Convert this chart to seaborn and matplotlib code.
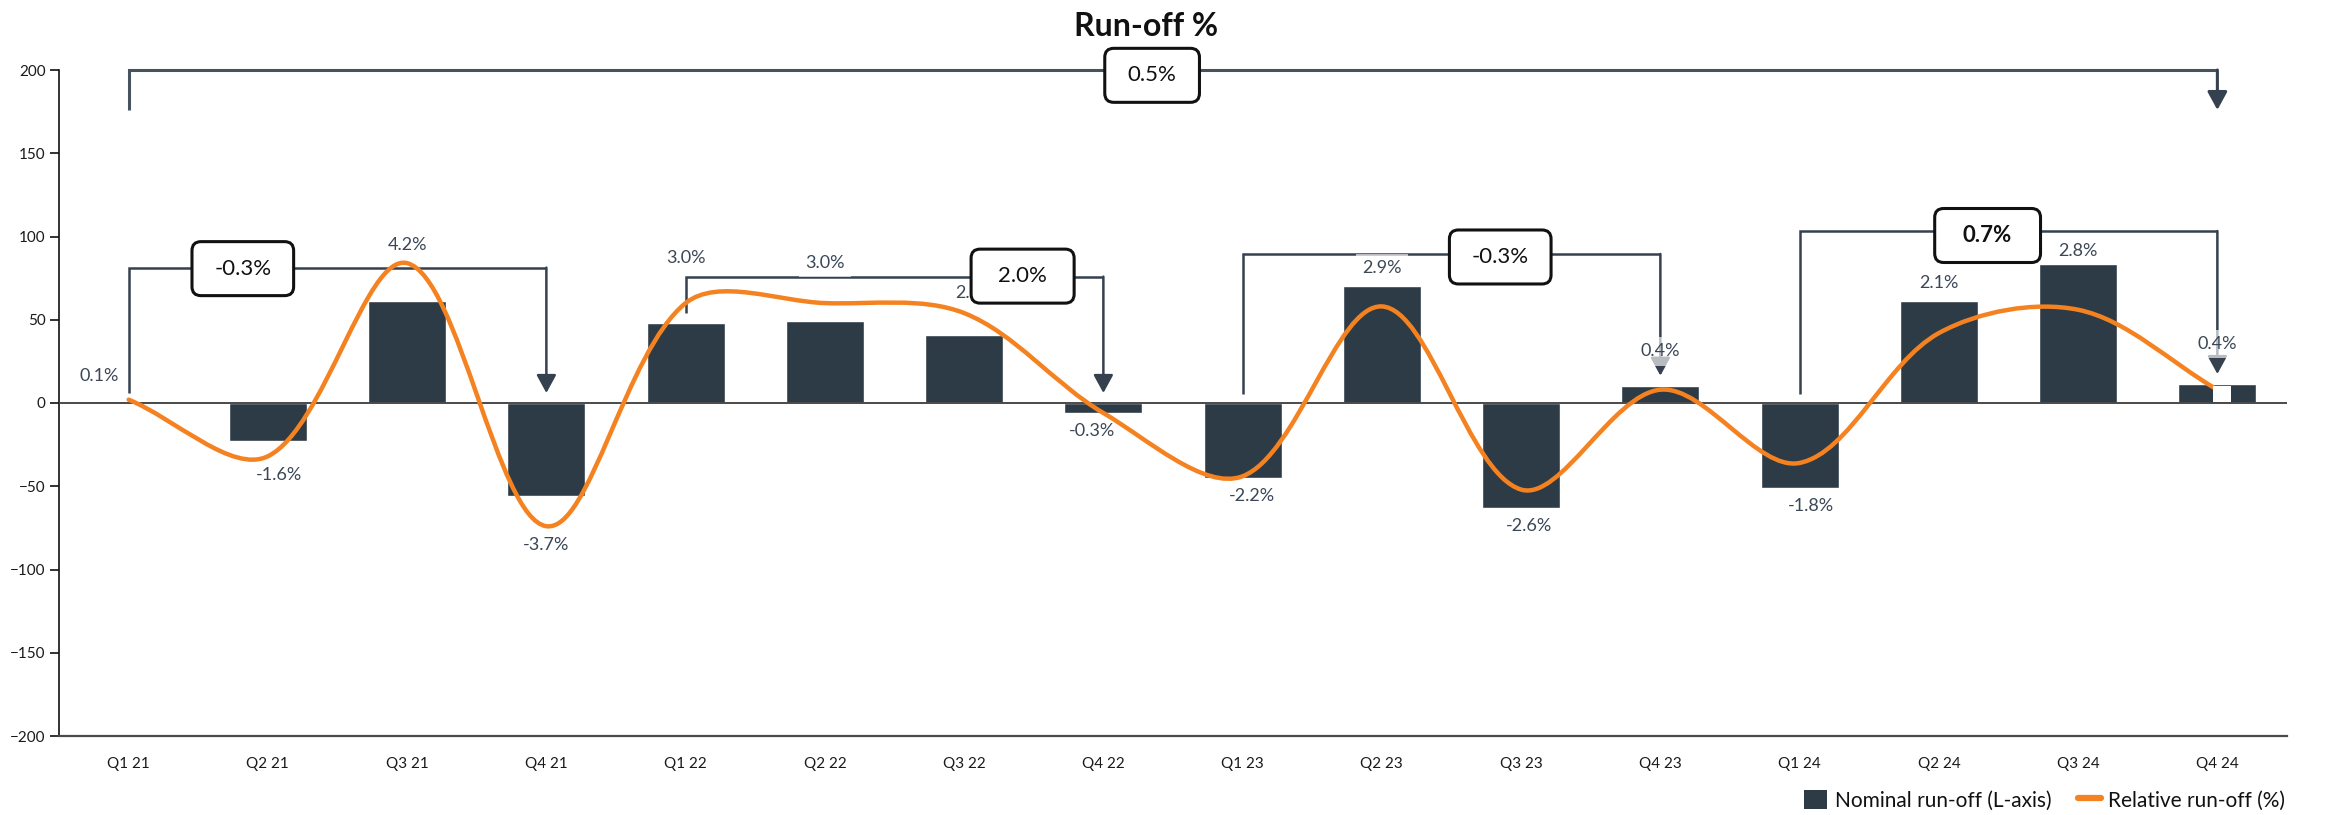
import matplotlib
matplotlib.use("Agg")
import numpy as np
import pandas as pd
import matplotlib.pyplot as plt
from matplotlib import font_manager
from matplotlib.path import Path
from matplotlib.patches import PathPatch, FancyBboxPatch, Rectangle, Patch
from matplotlib.lines import Line2D
import seaborn as sns

# ---- data -------------------------------------------------------------
quarters = ["Q1 21", "Q2 21", "Q3 21", "Q4 21",
            "Q1 22", "Q2 22", "Q3 22", "Q4 22",
            "Q1 23", "Q2 23", "Q3 23", "Q4 23",
            "Q1 24", "Q2 24", "Q3 24", "Q4 24"]
nominal_runoff = [1, -23, 61, -56, 48, 49, 41, -6,
                  -45, 70, -63, 10, -51, 61, 83.5, 11.5]
relative_runoff_pct = [0.1, -1.6, 4.2, -3.7, 3.0, 3.0, 2.7, -0.3,
                       -2.2, 2.9, -2.6, 0.4, -1.8, 2.1, 2.8, 0.4]
# change in relative run-off between two quarters (start, end index)
bracket_spans = [(0, 15), (0, 3), (4, 7), (8, 11), (12, 15)]
bracket_changes = [0.5, -0.3, 2.0, -0.3, 0.7]

y_ticks = [-200, -150, -100, -50, 0, 50, 100, 150, 200]

# ---- style ------------------------------------------------------------
BAR = "#2D3B46"
ORANGE = "#F58220"
LINE = "#35414E"
TEXT = "#3B4756"

sns.set_theme(style="white")
available = {f.name for f in font_manager.fontManager.ttflist}
base_font = next((f for f in ["Lato", "Open Sans", "DejaVu Sans"] if f in available), "DejaVu Sans")
plt.rcParams["font.family"] = [base_font, "DejaVu Sans"]

fig = plt.figure(figsize=(23.31, 8.15), dpi=100)
ax = fig.add_axes([59 / 2331, 79 / 815, (2287 - 59) / 2331, 666 / 815])

df = pd.DataFrame({"quarter": quarters, "nominal": nominal_runoff})
sns.barplot(data=df, x="quarter", y="nominal", color=BAR, saturation=1,
            width=0.56, ax=ax, zorder=2)

ax.set_xlim(-0.5, len(quarters) - 0.5)
ax.set_ylim(-200, 200)
ax.set_yticks(y_ticks)
ax.set_xlabel("")
ax.set_ylabel("")

# pixel scale of the data axes (used for the smoothed line and the boxes)
fig.canvas.draw()
p0 = ax.transData.transform((0, 0))
p1 = ax.transData.transform((1, 1))
px_x, px_y = p1[0] - p0[0], p1[1] - p0[1]

# relative run-off shares the left axis: right scale is -10 % .. 10 %
pct_scale = 200 / 10
line_y = [v * pct_scale for v in relative_runoff_pct]
xs = list(range(len(quarters)))


def smooth_path(px, py, tension=1 / 3):
    """Bezier curve through the points, tangents weighted by screen distance."""
    n = len(px)

    def dist(i, j):
        return np.hypot((px[j] - px[i]) * px_x, (py[j] - py[i]) * px_y)

    out_ctrl, in_ctrl = [], []
    for i in range(n):
        a, b = max(i - 1, 0), min(i + 1, n - 1)
        d_prev, d_next = dist(a, i), dist(i, b)
        tot = d_prev + d_next
        tx, ty = px[b] - px[a], py[b] - py[a]
        f_in = tension * d_prev / tot if tot else 0
        f_out = tension * d_next / tot if tot else 0
        in_ctrl.append((px[i] - f_in * tx, py[i] - f_in * ty))
        out_ctrl.append((px[i] + f_out * tx, py[i] + f_out * ty))
    verts = [(px[0], py[0])]
    codes = [Path.MOVETO]
    for i in range(n - 1):
        verts += [out_ctrl[i], in_ctrl[i + 1], (px[i + 1], py[i + 1])]
        codes += [Path.CURVE4] * 3
    return Path(verts, codes)


ax.add_patch(PathPatch(smooth_path(xs, line_y), fill=False, edgecolor=ORANGE,
                       lw=3.2, capstyle="round", joinstyle="round", zorder=6))

# axes frame
for side in ["top", "right"]:
    ax.spines[side].set_visible(False)
ax.spines["left"].set_color("#111111")
ax.spines["left"].set_linewidth(1.2)
ax.spines["bottom"].set_color("#4A4A4A")
ax.spines["bottom"].set_linewidth(1.6)
ax.axhline(0, color="#4A4A4A", lw=1.4, zorder=3)
ax.tick_params(axis="y", left=True, length=6.5, width=1.2, color="#111111",
               labelsize=11, labelcolor="#1A1A1A", pad=3)
ax.tick_params(axis="x", length=0, labelsize=11, labelcolor="#1A1A1A", pad=15)

# data labels for the relative run-off
extra = {0: (-0.21, 3), 1: (0.08, 0), 4: (0, 16), 5: (0, 13), 6: (0.08, 1),
         7: (-0.08, 0), 8: (0.07, 0), 10: (0.06, 0), 11: (0, 10),
         12: (0.08, 0), 14: (0, -3), 15: (0, 13)}
for i, (b, l, v) in enumerate(zip(nominal_runoff, line_y, relative_runoff_pct)):
    dx, dy = extra.get(i, (0, 0))
    if v >= 0:
        y = max(b, l) + 11 + dy
    else:
        y = min(b, l) - 11 - dy
    ax.text(i + dx, y, f"{v:.1f}%", ha="center", va="center", fontsize=13,
            color=TEXT, zorder=5,
            bbox=dict(boxstyle="square,pad=0.35", fc="white", ec="none", alpha=0.65))

# white gap over the last bar below its arrow
ax.add_patch(Rectangle((14.97, 0.9), 0.13, 9.4, fc="white", ec="none", zorder=6.5))

# brackets with arrows
bracket_geom = [
    # top, left foot, arrow tip, box centre x, box centre y, box width
    (200, 176, 176, 7.35, 196.8, 0.68),
    (81.3, 6, 6, 0.82, 80.7, 0.73),
    (75.9, 53.9, 6, 6.42, 76.2, 0.74),
    (89.5, 5.4, 16.4, 9.85, 87.7, 0.73),
    (103.3, 5.4, 17.4, 13.35, 100.6, 0.76),
]
highlight = 4

aspect = px_x / px_y
box_h = 54 / px_y
radius = 9 / px_x

for k, ((a, b), chg, (top, foot, tip, bx, by, bw)) in enumerate(
        zip(bracket_spans, bracket_changes, bracket_geom)):
    lw = 2.2 if k == 0 else 1.8
    col = "#46525E" if k == 0 else LINE
    ax.plot([a, a, b], [foot, top, top], color=col, lw=lw, zorder=4,
            solid_joinstyle="miter", solid_capstyle="butt", clip_on=False)
    ax.annotate("", xy=(b, tip), xytext=(b, top),
                arrowprops=dict(arrowstyle="-|>,head_length=0.55,head_width=0.3",
                                mutation_scale=20, color=LINE, lw=lw,
                                shrinkA=0, shrinkB=0),
                zorder=4, annotation_clip=False)
    ax.add_patch(FancyBboxPatch((bx - bw / 2, by - box_h / 2), bw, box_h,
                                boxstyle=f"round,pad=0,rounding_size={radius}",
                                mutation_aspect=aspect, fc="white", ec="#111111",
                                lw=2.2, zorder=8, clip_on=False))
    ax.text(bx, by, f"{chg:.1f}%", ha="center", va="center", fontsize=16,
            color="#111111", fontweight="bold" if k == highlight else "normal",
            zorder=9)

fig.text(0.4915, 0.968, "Run-off %", ha="center", va="center", fontsize=23,
         fontweight="bold", color="#111111")

handles = [Patch(facecolor=BAR, edgecolor="none"),
           Line2D([0], [0], color=ORANGE, lw=4.5)]
fig.legend(handles, ["Nominal run-off (L-axis)", "Relative run-off (%)"],
           loc="center right", bbox_to_anchor=(0.9885, 0.018), ncol=2,
           frameon=False, fontsize=15, handlelength=1.1, handleheight=1.0,
           handletextpad=0.35, columnspacing=1.3, labelcolor="#111111")

fig.savefig("out.png", dpi=100)
